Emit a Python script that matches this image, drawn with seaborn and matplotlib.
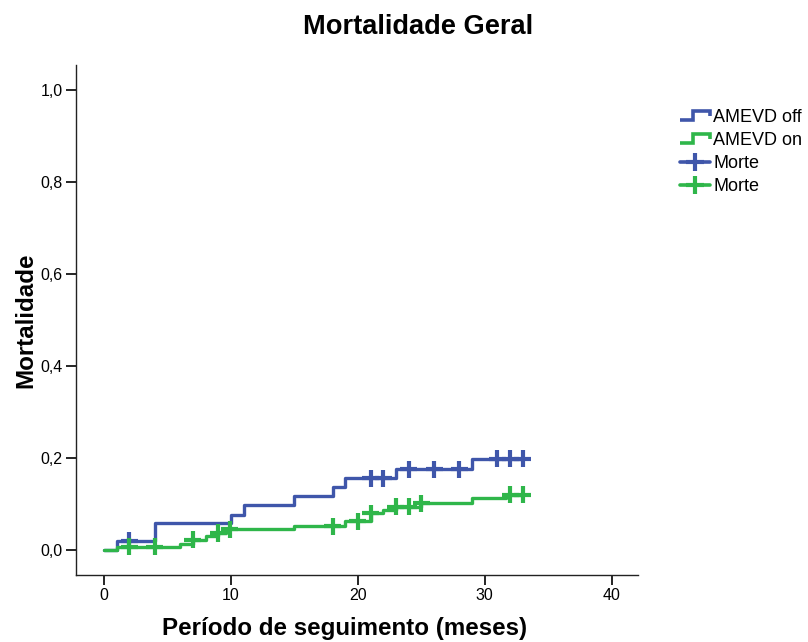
import numpy as np
import pandas as pd
import matplotlib
matplotlib.use("Agg")
import matplotlib.pyplot as plt
import seaborn as sns
from matplotlib.lines import Line2D
from matplotlib.legend_handler import HandlerBase

# curva cumulativa de mortalidade (Kaplan-Meier 1-S) por grupo
off_times = [0, 1, 4, 10, 11, 15, 18, 19, 23, 29, 33]
off_values = [0, 0.020, 0.058, 0.077, 0.098, 0.117, 0.137, 0.156, 0.176, 0.198, 0.198]
off_censor = [2, 21, 22, 24, 26, 28, 31, 32, 33]

on_times = [0, 1, 6, 7, 8, 9, 9.6, 15, 19, 21, 22, 23, 25, 29, 31.7, 33]
on_values = [0, 0.007, 0.014, 0.022, 0.030, 0.037, 0.045, 0.052, 0.062, 0.080,
             0.087, 0.094, 0.102, 0.112, 0.120, 0.120]
on_censor = [2, 4, 7, 9, 9.9, 18, 20, 21, 23, 24, 25, 32, 33]

groups = ["AMEVD off", "AMEVD on"]
censor_label = "Morte"
blue = "#3f56aa"
green = "#2fb64a"


def step_at(times, values, t):
    idx = np.searchsorted(times, t, side="right") - 1
    return np.asarray(values)[idx]


curves = pd.concat([
    pd.DataFrame({"t": off_times, "y": off_values, "grupo": groups[0]}),
    pd.DataFrame({"t": on_times, "y": on_values, "grupo": groups[1]}),
])
marks = pd.concat([
    pd.DataFrame({"t": off_censor, "y": step_at(off_times, off_values, off_censor), "grupo": groups[0]}),
    pd.DataFrame({"t": on_censor, "y": step_at(on_times, on_values, on_censor), "grupo": groups[1]}),
])
palette = {groups[0]: blue, groups[1]: green}


class StepHandler(HandlerBase):
    def create_artists(self, legend, orig_handle, xdescent, ydescent,
                       width, height, fontsize, trans):
        xs = np.array([0, 0.42, 0.42, 1.0, 1.0]) * width - xdescent
        ys = np.array([0.15, 0.15, 0.85, 0.85, 0.45]) * height - ydescent
        ln = Line2D(xs, ys, color=orig_handle.get_color(),
                    lw=orig_handle.get_linewidth(), transform=trans,
                    solid_joinstyle="miter", solid_capstyle="butt")
        return [ln]


class StepKey(Line2D):
    pass


sns.set_style("ticks", {"text.color": "black", "axes.labelcolor": "black",
                        "xtick.color": "black", "ytick.color": "black"})
plt.rcParams["font.family"] = ["Liberation Sans", "DejaVu Sans"]

fig = plt.figure(figsize=(8.08, 6.42), dpi=100)
ax = fig.add_axes([76 / 808, 1 - 575 / 642, (638 - 76) / 808, (575 - 65) / 642])

sns.lineplot(data=curves, x="t", y="y", hue="grupo", palette=palette,
             estimator=None, drawstyle="steps-post", linewidth=2.4,
             legend=False, ax=ax)
sns.scatterplot(data=marks, x="t", y="y", hue="grupo", palette=palette,
                marker="+", s=150, linewidth=3.0, legend=False, ax=ax, zorder=3)

ax.set_xlim(-2.21, 42.07)
ax.set_ylim(-0.0543, 1.0543)
ax.set_xticks([0, 10, 20, 30, 40])
ax.set_yticks([0.0, 0.2, 0.4, 0.6, 0.8, 1.0])
ax.set_yticklabels(["0,0", "0,2", "0,4", "0,6", "0,8", "1,0"])
ax.tick_params(axis="both", direction="out", length=7.5, width=1.2,
               color="black", labelcolor="black", labelsize=11.5, pad=2)
for side in ["left", "bottom"]:
    ax.spines[side].set_color("#222222")
    ax.spines[side].set_linewidth(1.0)
sns.despine(ax=ax)

ax.set_xlabel("Período de seguimento (meses)", fontsize=17.4, fontweight="bold")
ax.set_ylabel("Mortalidade", fontsize=17.4, fontweight="bold")
ax.xaxis.set_label_coords((345 - 76) / 562, -0.082)
ax.yaxis.set_label_coords(-0.068, 0.5)

fig.text(418 / 808, 1 - 27 / 642, "Mortalidade Geral", fontsize=19.6,
         fontweight="bold", ha="center", va="center", color="black")

handles = [
    StepKey([], [], color=blue, lw=2.6),
    StepKey([], [], color=green, lw=2.6),
    Line2D([], [], color=blue, lw=2.6, marker="+", markersize=13, mew=3.0),
    Line2D([], [], color=green, lw=2.6, marker="+", markersize=13, mew=3.0),
]
labels = [groups[0], groups[1], censor_label, censor_label]
fig.legend(handles, labels, loc="upper left", bbox_to_anchor=(680 / 808, 1 - 109 / 642),
           frameon=False, fontsize=13, handlelength=1.65, handletextpad=0.2,
           labelspacing=0.34, borderaxespad=0, borderpad=0,
           handler_map={StepKey: StepHandler()})

fig.savefig("out.png", dpi=100)
